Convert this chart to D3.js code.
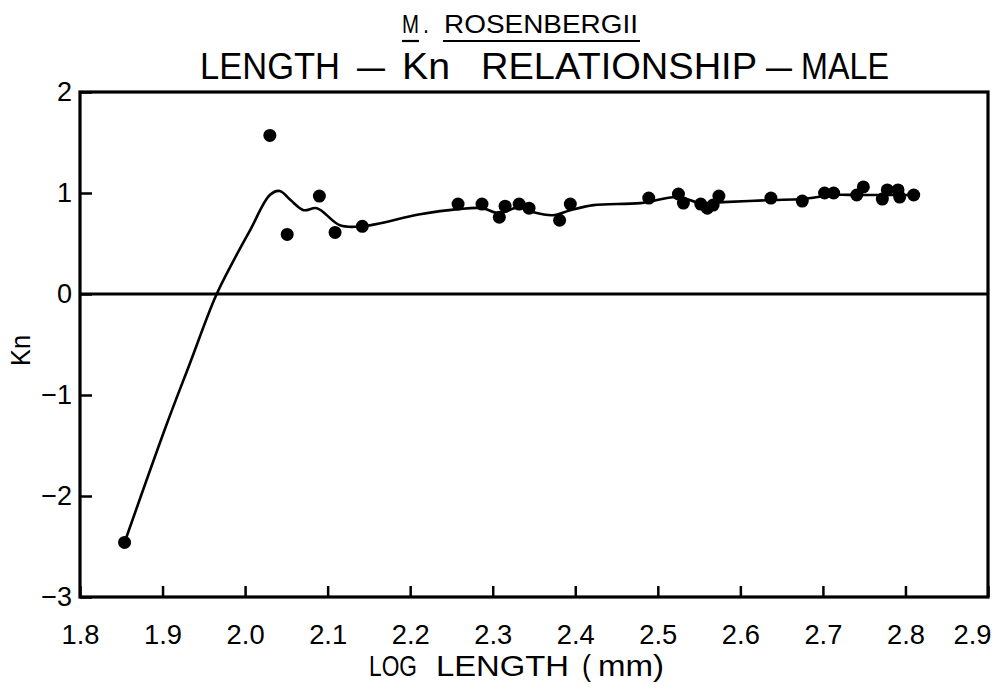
<!DOCTYPE html>
<html>
<head>
<meta charset="utf-8">
<script src="https://cdn.jsdelivr.net/npm/d3@7/dist/d3.min.js"></script>
<style>
  html, body { margin: 0; padding: 0; background: #fff; }
  svg { display: block; }
  text { font-family: "Liberation Sans", Arial, sans-serif; fill: #000; }
</style>
</head>
<body>
<svg id="chart" width="996" height="692"></svg>
<script>
// Observed log length (mm) and relative condition factor Kn, males
const logLength = [1.854, 2.030, 2.051, 2.090, 2.109, 2.142, 2.258, 2.287, 2.308, 2.315,
                   2.332, 2.344, 2.381, 2.394, 2.489, 2.525, 2.531, 2.552, 2.560, 2.567,
                   2.574, 2.637, 2.675, 2.702, 2.713, 2.741, 2.749, 2.772, 2.778, 2.791,
                   2.793, 2.810];
const knValues  = [-2.46, 1.57, 0.59, 0.97, 0.61, 0.67, 0.89, 0.89, 0.76, 0.87,
                   0.89, 0.85, 0.73, 0.89, 0.95, 0.99, 0.90, 0.89, 0.85, 0.88,
                   0.97, 0.95, 0.92, 1.00, 1.00, 0.98, 1.06, 0.94, 1.03, 1.03,
                   0.96, 0.98];

// Hand-fitted trend line through the observations
const trendLength = [1.854, 1.905, 1.933, 1.964, 1.986, 2.006, 2.030, 2.042, 2.055, 2.071,
                     2.087, 2.115, 2.142, 2.212, 2.258, 2.287, 2.308, 2.332, 2.349, 2.373,
                     2.394, 2.422, 2.479, 2.524, 2.552, 2.579, 2.637, 2.675, 2.713, 2.741,
                     2.772, 2.810];
const trendKn     = [-2.46, -1.29, -0.69, -0.03, 0.33, 0.63, 0.98, 1.02, 0.93, 0.83,
                     0.85, 0.68, 0.67, 0.79, 0.84, 0.85, 0.80, 0.86, 0.81, 0.78,
                     0.83, 0.88, 0.90, 0.96, 0.90, 0.91, 0.93, 0.94, 0.98, 0.98,
                     0.98, 0.98];

const xTickValues = [1.8, 1.9, 2.0, 2.1, 2.2, 2.3, 2.4, 2.5, 2.6, 2.7, 2.8, 2.9];
const yTickValues = [-3, -2, -1, 0, 1, 2];

const svg = d3.select("#chart");
const plotLeft = 80, plotRight = 988, plotTop = 92, plotBottom = 597;

const x = d3.scaleLinear().domain([1.8, 2.9]).range([plotLeft, plotRight]);
const y = d3.scaleLinear().domain([-3, 2]).range([plotBottom, plotTop]);

// Axes with inward ticks
const xAxis = d3.axisBottom(x).tickValues(xTickValues).tickFormat(d3.format(".1f"))
  .tickSizeInner(-11).tickSizeOuter(0).tickPadding(27);
const gx = svg.append("g").attr("transform", `translate(0,${plotBottom})`).call(xAxis);
gx.select(".domain").remove();
gx.selectAll(".tick line").attr("stroke", "#000").attr("stroke-width", 2.5);
gx.selectAll(".tick text")
  .attr("font-size", 28).attr("fill", "#000")
  .attr("font-family", null)
  .attr("textLength", 38).attr("lengthAdjust", "spacingAndGlyphs")
  .attr("text-anchor", d => d === 2.9 ? "end" : "middle")
  .attr("x", d => d === 2.9 ? 3 : 0);

const yAxis = d3.axisLeft(y).tickValues(yTickValues)
  .tickFormat(d => d < 0 ? "\u2212" + Math.abs(d) : d)
  .tickSizeInner(-12).tickSizeOuter(0).tickPadding(8);
const gy = svg.append("g").attr("transform", `translate(${plotLeft},0)`).call(yAxis);
gy.select(".domain").remove();
gy.selectAll(".tick line").attr("stroke", "#000").attr("stroke-width", 2.5);
gy.selectAll(".tick text").attr("font-size", 27).attr("fill", "#000").attr("font-family", null);

// Plot frame
svg.append("rect")
  .attr("x", x(1.8)).attr("y", y(2))
  .attr("width", x(2.9) - x(1.8)).attr("height", y(-3) - y(2))
  .attr("fill", "none").attr("stroke", "#000").attr("stroke-width", 3.2);

// Kn = 0 reference line
svg.append("line")
  .attr("x1", x(1.8)).attr("x2", x(2.9))
  .attr("y1", y(0)).attr("y2", y(0))
  .attr("stroke", "#000").attr("stroke-width", 2.8);

// Trend curve
const trend = d3.zip(trendLength, trendKn);
svg.append("path")
  .datum(trend)
  .attr("fill", "none").attr("stroke", "#000").attr("stroke-width", 2.6)
  .attr("stroke-linejoin", "round").attr("stroke-linecap", "round")
  .attr("d", d3.line().x(d => x(d[0])).y(d => y(d[1])).curve(d3.curveCatmullRom.alpha(0.5)));

// Observations
svg.append("g").selectAll("circle")
  .data(d3.zip(logLength, knValues))
  .join("circle")
  .attr("cx", d => x(d[0])).attr("cy", d => y(d[1]))
  .attr("r", 6.5).attr("fill", "#000");

// Places a word stretched or squeezed to a set width
function word(str, px, py, size, width) {
  return svg.append("text")
    .attr("x", px).attr("y", py)
    .attr("font-size", size)
    .attr("textLength", width).attr("lengthAdjust", "spacingAndGlyphs")
    .text(str);
}

// Axis titles
word("LOG", 369, 676, 29, 48);
word("LENGTH", 436, 676, 29, 133);
word("(", 582, 676, 29, 9);
word("mm)", 598, 676, 29, 66);

svg.append("text")
  .attr("transform", "translate(30,366) rotate(-90)")
  .attr("font-size", 27)
  .attr("textLength", 31).attr("lengthAdjust", "spacingAndGlyphs")
  .text("Kn");

// Title, species name underlined
word("M", 402, 33, 26, 17);
word(".", 423, 33, 26, 6);
word("ROSENBERGII", 444, 33, 26, 194);
svg.append("line").attr("x1", 402).attr("x2", 419).attr("y1", 41).attr("y2", 41)
  .attr("stroke", "#000").attr("stroke-width", 2.2);
svg.append("line").attr("x1", 443).attr("x2", 640).attr("y1", 41).attr("y2", 41)
  .attr("stroke", "#000").attr("stroke-width", 2.2);

word("LENGTH", 200, 79, 37, 140);
word("\u2013", 357, 79, 37, 28);
word("Kn", 402, 79, 37, 48);
word("RELATIONSHIP", 481, 79, 37, 276);
word("\u2013", 766, 79, 37, 26);
word("MALE", 801, 79, 37, 88);
</script>
</body>
</html>
